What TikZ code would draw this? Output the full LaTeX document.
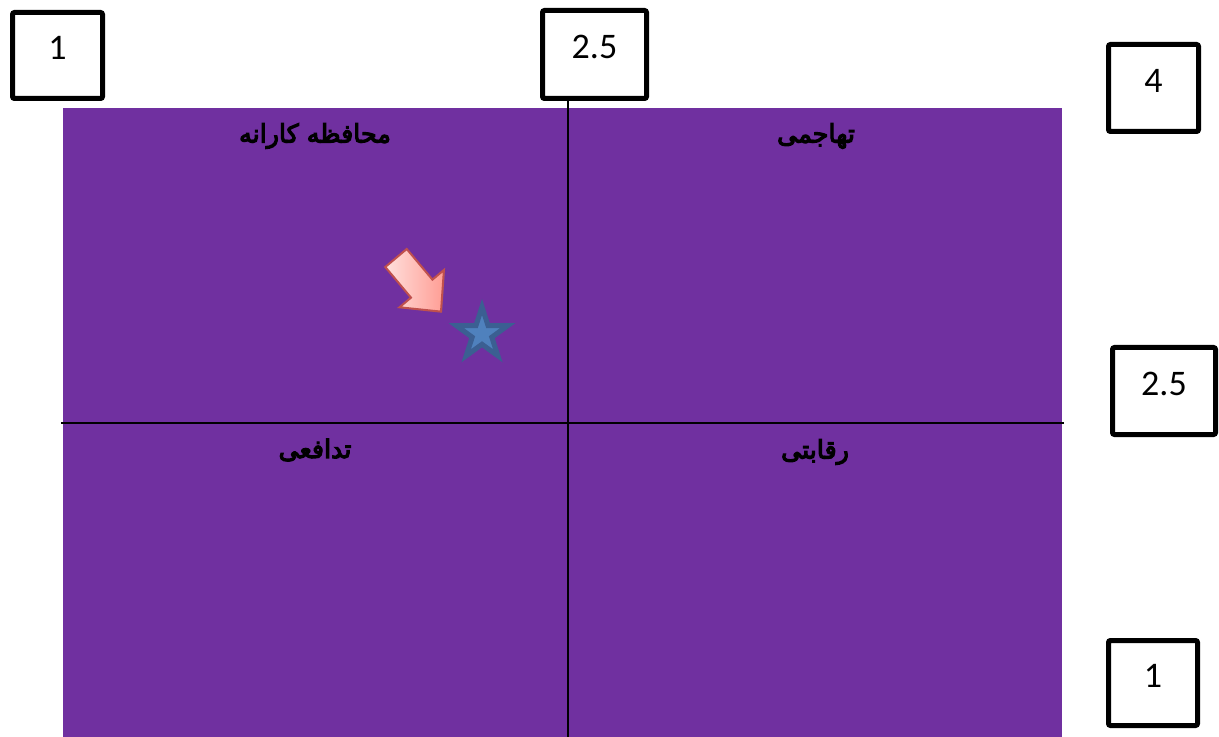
\documentclass[tikz,border=0pt]{standalone}
\usepackage{fontspec}
\setmainfont{Carlito}
\newfontfamily\arabicfont[Script=Arabic, BoldFont={DejaVu Sans},
    BoldFeatures={FakeBold=4.5}]{DejaVu Sans}
\TeXXeTstate=1
\usepackage{xcolor}
\usetikzlibrary{shapes.geometric,shadows}

\definecolor{quadpurple}{HTML}{7030A0}
\definecolor{arrowred}{HTML}{C0504D}
\definecolor{arrowlight}{HTML}{FFE0DD}
\definecolor{arrowdark}{HTML}{FF9D94}
\definecolor{starfill}{HTML}{4F81BD}
\definecolor{starline}{HTML}{3B5F92}

\begin{document}
\begin{tikzpicture}[
        x=0.75pt, y=-0.75pt,
        scalebox/.style={draw, fill=white, line width=3.75pt, rounded corners=1.5pt,
                         inner sep=0pt, text height=17pt, text depth=10.5pt,
                         font=\fontsize{27}{30}\selectfont},
        quadlabel/.style={inner sep=0pt, text=black,
                          font=\arabicfont\bfseries\fontsize{19}{22}\selectfont},
        axisline/.style={line width=1.2pt, black},
        pointer/.style={draw=arrowred, line width=1.5pt, left color=arrowlight,
                        right color=arrowdark,
                        drop shadow={shadow xshift=0.8pt, shadow yshift=-0.8pt, opacity=0.35}},
        starmark/.style={star, star points=5, star point ratio=2.618, inner sep=0pt,
                         minimum size=40.5pt, fill=starfill, draw=starline, line width=3.75pt}
    ]
        \useasboundingbox (0,0) rectangle (1219,737);

        % quadrant field
        \fill[quadpurple] (63,108) rectangle (1062,737);
        \coordinate (vtop) at (568,101);
        \coordinate (vbot) at (568,737);
        \coordinate (hleft) at (61,423);
        \coordinate (hright) at (1064,423);
        \draw[axisline] (vtop) -- (vbot);
        \draw[axisline] (hleft) -- (hright);

        % quadrant names
        \node[quadlabel] (conserv) at (315,136) {\beginR محافظه کارانه\endR};
        \node[quadlabel] (aggress) at (816,136) {\beginR تهاجمی\endR};
        \node[quadlabel] (defens)  at (315,450) {\beginR تدافعی\endR};
        \node[quadlabel] (compet)  at (815,452) {\beginR رقابتی\endR};

        % position marker
        \begin{scope}[shift={(396,258)}, rotate=-50]
            \draw[pointer] (0,-14) -- (40,-14) -- (40,-29) -- (70,0)
                -- (40,29) -- (40,14) -- (0,14) -- cycle;
        \end{scope}
        \node[starmark] (pos) at (482,334) {};

        % scale values
        \node[scalebox, minimum width=67.5pt, minimum height=64.5pt]  (xlow)  at (57.5,55.5) {1};
        \node[scalebox, minimum width=78pt, minimum height=66pt]      (xmid)  at (594.5,54.5) {2.5};
        \node[scalebox, minimum width=67.5pt, minimum height=65.25pt] (yhigh) at (1153.5,88) {4};
        \node[scalebox, minimum width=77.25pt, minimum height=65.25pt] (ymid) at (1164,391) {2.5};
        \node[scalebox, minimum width=66.75pt, minimum height=63.75pt] (ylow) at (1153,683) {1};
    \end{tikzpicture}
\end{document}
